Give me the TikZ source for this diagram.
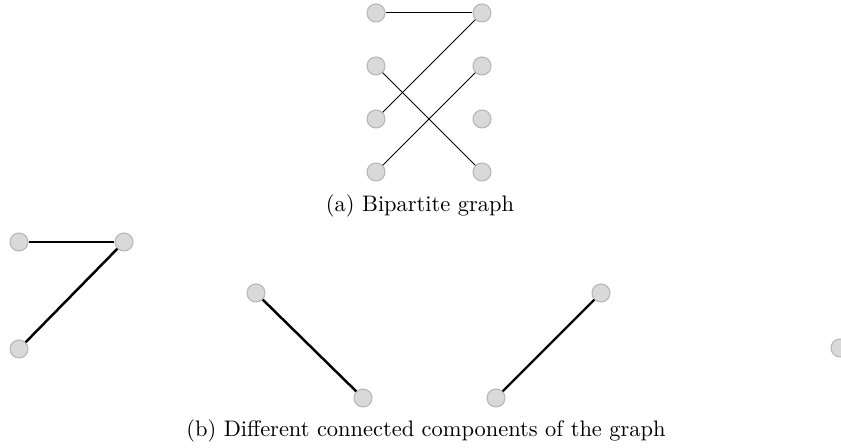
\documentclass[tikz,border=0pt]{standalone}
\begin{document}
\begin{tikzpicture}[x=0.4457pt,y=-0.4457pt,
  vtx/.style={circle,fill=black!15,draw=black!28,line width=0.5pt,inner sep=0pt,minimum size=8pt},
  thinedge/.style={line width=0.45pt},
  thickedge/.style={line width=1.1pt}]
\useasboundingbox (0,0) rectangle (841,448);
% (a)
\node[vtx] (l1) at (376,13) {};
\node[vtx] (l2) at (376,66) {};
\node[vtx] (l3) at (376,119) {};
\node[vtx] (l4) at (376,172) {};
\node[vtx] (r1) at (482,13) {};
\node[vtx] (r2) at (482,66) {};
\node[vtx] (r3) at (482,119) {};
\node[vtx] (r4) at (482,172) {};
\draw[thinedge] (l1) -- (r1);
\draw[thinedge] (r1) -- (l3);
\draw[thinedge] (l2) -- (r4);
\draw[thinedge] (r2) -- (l4);
\node[anchor=base] (capa) at (420,212) {(a) Bipartite graph};
% (b)
\node[vtx] (b1) at (19,242) {};
\node[vtx] (b2) at (124,242) {};
\node[vtx] (b3) at (19,349) {};
\draw[thickedge] (b1) -- (b2);
\draw[thickedge] (b2) -- (b3);
\node[vtx] (c1) at (256,293) {};
\node[vtx] (c2) at (363,398) {};
\draw[thickedge] (c1) -- (c2);
\node[vtx] (d1) at (601,293) {};
\node[vtx] (d2) at (496,398) {};
\draw[thickedge] (d1) -- (d2);
\node[vtx] (e1) at (840,348) {};
\node[anchor=base] (capb) at (426,437) {(b) Different connected components of the graph};
\end{tikzpicture}
\end{document}
